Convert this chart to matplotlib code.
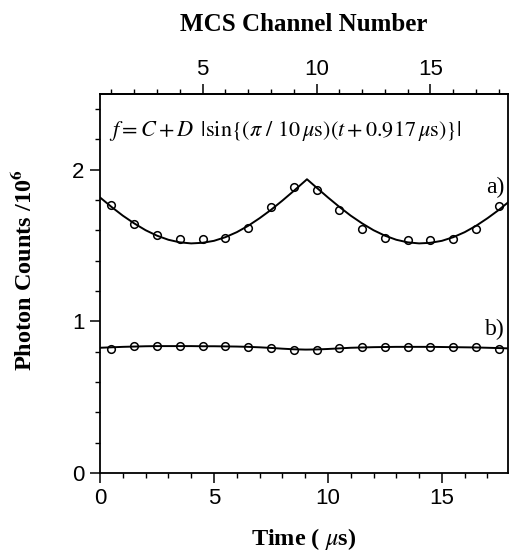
import numpy as np
import matplotlib
matplotlib.use("Agg")
import matplotlib.pyplot as plt
from matplotlib.ticker import MultipleLocator, FixedLocator

plt.rcParams['mathtext.fontset'] = 'stix'
plt.rcParams['font.family'] = 'Liberation Sans'

# measured points (time in us, counts / 1e6)
t_pts = [0.5, 1.5, 2.5, 3.5, 4.5, 5.5, 6.5, 7.5, 8.5, 9.5,
         10.5, 11.5, 12.5, 13.5, 14.5, 15.5, 16.5, 17.5]
a_pts = [1.765, 1.644, 1.567, 1.540, 1.540, 1.547, 1.615, 1.756, 1.886, 1.868,
         1.736, 1.611, 1.551, 1.536, 1.536, 1.540, 1.611, 1.760]
b_pts = [0.821, 0.836, 0.836, 0.838, 0.836, 0.836, 0.834, 0.823, 0.812, 0.812,
         0.823, 0.830, 0.832, 0.832, 0.832, 0.830, 0.828, 0.817]

# fitted curves
t_fit = [0, 0.5, 1, 1.5, 2, 2.5, 3, 3.5, 4, 4.5, 5, 5.5, 6, 6.5, 7, 7.5, 8, 8.5,
         9, 9.08, 9.5, 10, 10.5, 11, 11.5, 12, 12.5, 13, 13.5, 14, 14.5, 15,
         15.5, 16, 16.5, 17, 17.5, 17.9]
a_fit = [1.817, 1.755, 1.697, 1.646, 1.601, 1.565, 1.538, 1.521, 1.514, 1.518,
         1.531, 1.555, 1.588, 1.630, 1.680, 1.735, 1.796, 1.860, 1.926, 1.937,
         1.882, 1.817, 1.755, 1.697, 1.646, 1.601, 1.565, 1.538, 1.521, 1.514,
         1.518, 1.531, 1.555, 1.588, 1.630, 1.680, 1.735, 1.784]
b_fit = [0.826, 0.829, 0.832, 0.834, 0.836, 0.837, 0.837, 0.837, 0.837, 0.836,
         0.836, 0.835, 0.834, 0.832, 0.829, 0.825, 0.820, 0.816, 0.814, 0.814,
         0.815, 0.818, 0.822, 0.826, 0.828, 0.830, 0.831, 0.832, 0.832, 0.832,
         0.832, 0.831, 0.830, 0.829, 0.828, 0.826, 0.824, 0.822]

fig = plt.figure(figsize=(5.09, 5.52), dpi=100)
ax = fig.add_axes([0.1965, 0.143, 0.8015, 0.687])

ax.plot(t_fit, a_fit, color='black', lw=1.4)
ax.plot(t_fit, b_fit, color='black', lw=1.4)
ax.plot(t_pts, a_pts, 'o', mfc='none', mec='black', ms=5.5, mew=1.1)
ax.plot(t_pts, b_pts, 'o', mfc='none', mec='black', ms=5.5, mew=1.1)

ax.set_xlim(0, 17.9)
ax.set_ylim(0, 2.5)
ax.xaxis.set_major_locator(FixedLocator([0, 5, 10, 15]))
ax.xaxis.set_minor_locator(MultipleLocator(1))
ax.yaxis.set_major_locator(FixedLocator([0, 1, 2]))
ax.yaxis.set_minor_locator(MultipleLocator(0.2))
ax.tick_params(which='major', direction='out', length=7, width=1.1, labelsize=16, pad=4)
ax.tick_params(which='minor', direction='out', length=3.5, width=1.0)
for s in ax.spines.values():
    s.set_linewidth(1.3)

top = ax.secondary_xaxis('top', functions=(lambda t: t + 0.5, lambda n: n - 0.5))
top.xaxis.set_major_locator(FixedLocator([5, 10, 15]))
top.xaxis.set_minor_locator(MultipleLocator(1))
top.tick_params(which='major', direction='out', length=7, width=1.1, labelsize=16, pad=3)
top.tick_params(which='minor', direction='out', length=3.5, width=1.0)
top.spines['top'].set_linewidth(1.3)

serif = 'Liberation Serif'
ax.set_xlabel(r'Time ( $\mu$s)', family=serif, weight='bold', fontsize=17.5, labelpad=12)
ax.set_ylabel(r'Photon Counts /10$^{\mathbf{6}}$', family=serif, weight='bold', fontsize=17.5)
ax.yaxis.set_label_coords(-0.155, 0.535)
top.set_xlabel('MCS Channel Number', family=serif, weight='bold', fontsize=18, labelpad=20)

ax.text(0.4, 2.255, r'$f = C + D\ \,|\mathrm{sin}\{(\pi\ /\ 10\,\mu\mathrm{s})(t + 0.917\,\mu\mathrm{s})\}|$',
        fontsize=16, va='center', ha='left')
ax.text(17.75, 1.88, 'a)', family=serif, fontsize=17, ha='right', va='center')
ax.text(17.75, 0.95, 'b)', family=serif, fontsize=17, ha='right', va='center')

fig.savefig('out.png', dpi=100)
